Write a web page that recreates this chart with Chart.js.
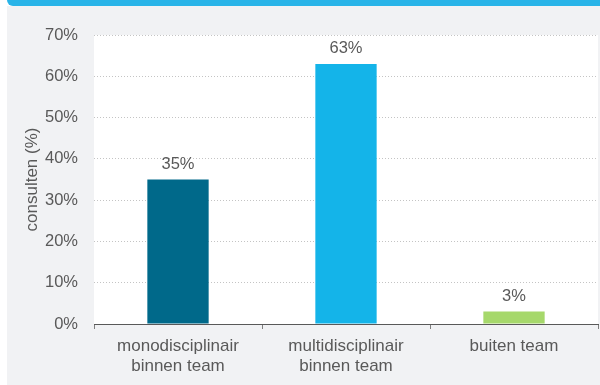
<!DOCTYPE html>
<html lang="nl">
<head>
    <meta charset="UTF-8">
    <title>Consulten per type</title>
    <script src="https://cdn.jsdelivr.net/npm/chart.js"></script>
    <style>
        body {
            margin: 0;
            background: #ffffff;
            font-family: 'Liberation Sans', Arial, sans-serif;
        }

        /* blue strip on top of the panel */
        .band {
            position: absolute;
            left: 7px;
            top: 0;
            width: 593px;
            height: 6px;
            background: #29b4e8;
            border-bottom-left-radius: 6px;
        }

        .panel {
            position: absolute;
            left: 7px;
            top: 6px;
            width: 593px;
            height: 379px;
            background: #f1f2f4;
        }
    </style>
</head>
<body>
    <div class="band"></div>
    <div class="panel">
        <canvas id="consultChart"></canvas>
    </div>

    <script>
        const categories = [
            ['monodisciplinair', 'binnen team'],
            ['multidisciplinair', 'binnen team'],
            'buiten team'
        ];
        const consultPct = [35, 63, 3];
        const barColors = ['#00698a', '#14b4e9', '#a6d86b'];
        const yTicks = [0, 10, 20, 30, 40, 50, 60, 70];

        const textColor = '#595959';
        const fontFamily = '"Liberation Sans", Arial, sans-serif';

        // white plot area on the grey panel
        const plotBackground = {
            id: 'plotBackground',
            beforeDraw(chart) {
                const { ctx, chartArea } = chart;
                ctx.save();
                ctx.fillStyle = '#ffffff';
                ctx.fillRect(chartArea.left, chartArea.top,
                    chartArea.right - chartArea.left, chartArea.bottom - chartArea.top);
                ctx.restore();
            }
        };

        // percentage above each bar
        const barValues = {
            id: 'barValues',
            afterDatasetsDraw(chart) {
                const { ctx } = chart;
                const meta = chart.getDatasetMeta(0);
                ctx.save();
                ctx.font = '16.5px ' + fontFamily;
                ctx.fillStyle = textColor;
                ctx.textAlign = 'center';
                ctx.textBaseline = 'middle';
                meta.data.forEach((bar, i) => {
                    ctx.fillText(consultPct[i] + '%', bar.x, bar.y - 15);
                });
                ctx.restore();
            }
        };

        new Chart(document.getElementById('consultChart'), {
            type: 'bar',
            data: {
                labels: categories,
                datasets: [{
                    data: consultPct,
                    backgroundColor: barColors,
                    barPercentage: 0.365,
                    categoryPercentage: 1
                }]
            },
            options: {
                responsive: true,
                maintainAspectRatio: false,
                animation: false,
                layout: {
                    padding: { top: 29, right: 2, left: 0, bottom: 0 }
                },
                plugins: {
                    legend: { display: false },
                    tooltip: { enabled: false }
                },
                scales: {
                    x: {
                        grid: {
                            offset: true,
                            drawOnChartArea: false,
                            drawTicks: true,
                            tickLength: 5,
                            color: '#7f7f7f'
                        },
                        border: { color: '#595959', width: 1 },
                        ticks: {
                            color: textColor,
                            padding: 7,
                            font: { family: fontFamily, size: 17, lineHeight: 1.18 },
                            maxRotation: 0
                        },
                        afterFit(scale) { scale.height = 61; }
                    },
                    y: {
                        min: 0,
                        max: 70,
                        afterBuildTicks(scale) {
                            scale.ticks = yTicks.map(v => ({ value: v }));
                        },
                        grid: {
                            drawTicks: false,
                            color: '#c4c4c4',
                            lineWidth: 1
                        },
                        border: { display: false, dash: [1, 2] },
                        ticks: {
                            color: textColor,
                            padding: 16,
                            font: { family: fontFamily, size: 16.5 },
                            callback: v => v + '%'
                        },
                        title: {
                            display: true,
                            text: 'consulten (%)',
                            color: textColor,
                            padding: { top: 15, bottom: 0 },
                            font: { family: fontFamily, size: 17 }
                        },
                        afterFit(scale) { scale.width = 87; }
                    }
                }
            },
            plugins: [plotBackground, barValues]
        });
    </script>
</body>
</html>
